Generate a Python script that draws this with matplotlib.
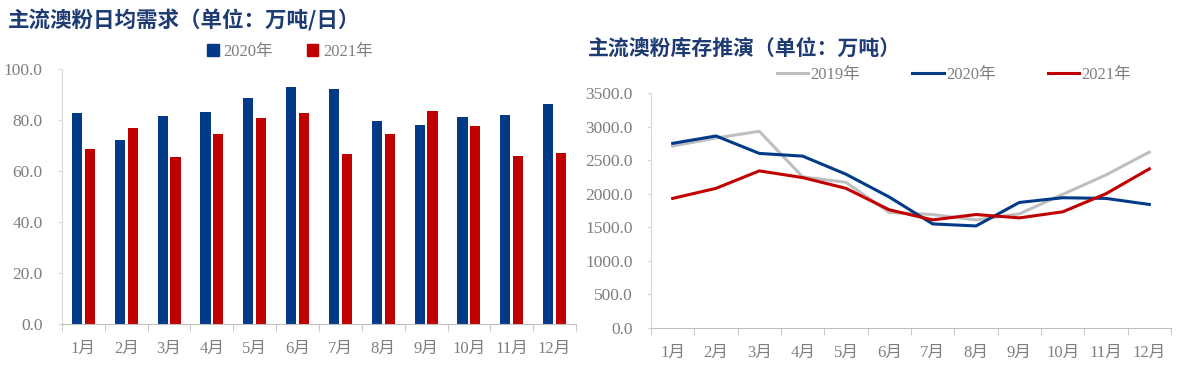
import matplotlib
matplotlib.use("Agg")
import matplotlib.pyplot as plt
import numpy as np
from matplotlib.patches import Patch

months = ["1月", "2月", "3月", "4月", "5月", "6月", "7月", "8月", "9月", "10月", "11月", "12月"]

demand_2020 = [82.7, 72.3, 81.6, 83.1, 88.6, 92.9, 92.2, 79.6, 78.2, 81.2, 82.0, 86.1]
demand_2021 = [68.7, 76.7, 65.5, 74.5, 80.8, 82.7, 66.5, 74.5, 83.5, 77.8, 65.9, 66.9]

stock_2019 = [2710, 2830, 2930, 2250, 2170, 1720, 1690, 1610, 1700, 1990, 2280, 2620]
stock_2020 = [2750, 2860, 2600, 2560, 2290, 1950, 1550, 1520, 1870, 1940, 1930, 1840]
stock_2021 = [1930, 2080, 2340, 2240, 2080, 1760, 1610, 1690, 1640, 1730, 2000, 2370]

BLUE = "#033A87"
RED = "#C00000"
GRAY = "#BFBFBF"
TITLE = "#1F3B73"
TXT = "#7F7F7F"
FONT = ["Liberation Serif", "Noto Sans CJK SC"]
TFONT = ["Noto Sans CJK SC", "DejaVu Sans"]

plt.rcParams["font.family"] = FONT

fig = plt.figure(figsize=(12.01, 3.75), dpi=100)

def style_axes(ax):
    for s in ["top", "right"]:
        ax.spines[s].set_visible(False)
    ax.spines["left"].set_color("#D9D9D9")
    ax.spines["bottom"].set_color("#BFBFBF")
    ax.tick_params(axis="y", colors="#D9D9D9", labelcolor=TXT, labelsize=12.5, length=3, pad=11)
    ax.tick_params(axis="x", which="major", length=0, labelcolor=TXT, labelsize=12, pad=12)
    ax.tick_params(axis="x", which="minor", length=5, color="#BFBFBF")

# Left chart: bars
ax1 = fig.add_axes([62/1201, 1-324/375, 514/1201, 255/375])
x = np.arange(len(months))
w = 0.235
ax1.bar(x - 0.15, demand_2020, width=w, color=BLUE, label="2020年")
ax1.bar(x + 0.15, demand_2021, width=w, color=RED, label="2021年")
ax1.set_xlim(-0.5, 11.5)
ax1.set_ylim(0, 100)
ax1.set_yticks(np.arange(0, 101, 20))
ax1.set_yticklabels([f"{v:.1f}" for v in np.arange(0, 101, 20)])
ax1.set_xticks(x)
ax1.set_xticklabels(months)
ax1.set_xticks(np.arange(-0.5, 12, 1), minor=True)
style_axes(ax1)
fig.text(8/1201, 1-20/375, "主流澳粉日均需求（单位：万吨/日）", family=TFONT, fontsize=15.5,
         fontweight="bold", color=TITLE, va="center", ha="left")
h1 = [Patch(color=BLUE), Patch(color=RED)]
fig.legend(h1, ["2020年", "2021年"], loc="center", bbox_to_anchor=(290/1201, 1-52/375),
           ncol=2, frameon=False, fontsize=12, labelcolor=TXT, handlelength=0.7,
           handleheight=0.7, handletextpad=0.3, columnspacing=2.0)

# Right chart: lines
ax2 = fig.add_axes([651/1201, 1-328/375, 520/1201, 235/375])
ax2.plot(x, stock_2019, color=GRAY, lw=2.2, label="2019年")
ax2.plot(x, stock_2020, color=BLUE, lw=2.2, label="2020年")
ax2.plot(x, stock_2021, color=RED, lw=2.2, label="2021年")
ax2.set_xlim(-0.5, 11.5)
ax2.set_ylim(0, 3500)
ax2.set_yticks(np.arange(0, 3501, 500))
ax2.set_yticklabels([f"{v:.1f}" for v in np.arange(0, 3501, 500)])
ax2.set_xticks(x)
ax2.set_xticklabels(months)
ax2.set_xticks(np.arange(-0.5, 12, 1), minor=True)
style_axes(ax2)
ax2.tick_params(axis="y", pad=10)
fig.text(588/1201, 1-48/375, "主流澳粉库存推演（单位：万吨）", family=TFONT, fontsize=15,
         fontweight="bold", color=TITLE, va="center", ha="left")
fig.legend(ax2.get_lines(), ["2019年", "2020年", "2021年"], loc="center",
           bbox_to_anchor=(954/1201, 1-75/375), ncol=3, frameon=False, fontsize=12,
           labelcolor=TXT, handlelength=1.9, handletextpad=0.15, columnspacing=3.1)

fig.savefig("out.png", dpi=100)
